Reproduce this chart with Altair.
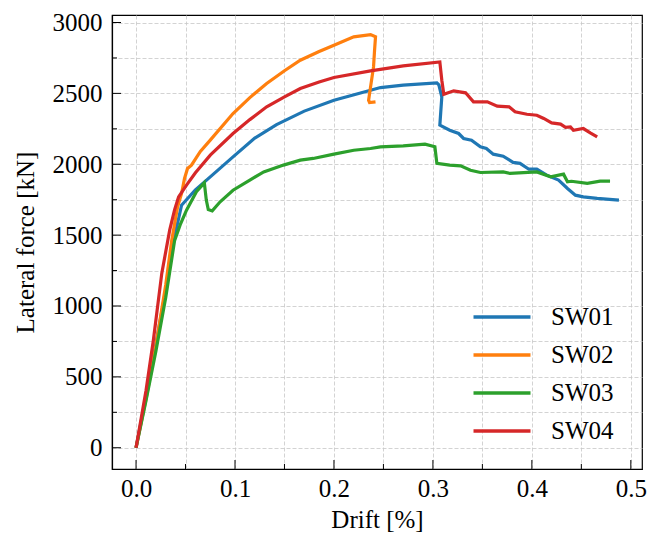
import altair as alt
import pandas as pd

# ---- data ----
sw01_x = [0, 0.01, 0.02, 0.03, 0.038, 0.046, 0.06, 0.075, 0.098, 0.12, 0.142, 0.17, 0.2, 0.237, 0.247, 0.27, 0.304, 0.306, 0.309, 0.307, 0.317, 0.326, 0.331, 0.339, 0.348, 0.354, 0.361, 0.371, 0.381, 0.388, 0.397, 0.405, 0.415, 0.427, 0.436, 0.444, 0.452, 0.466, 0.488]
sw01_y = [0, 360, 730, 1110, 1460, 1711, 1820, 1911, 2052, 2185, 2280, 2375, 2452, 2522, 2541, 2558, 2574, 2560, 2475, 2276, 2240, 2217, 2182, 2170, 2123, 2111, 2071, 2057, 2013, 2006, 1965, 1965, 1923, 1888, 1829, 1782, 1770, 1759, 1747]

sw02_x = [0, 0.01, 0.02, 0.03, 0.036, 0.042, 0.046, 0.049, 0.052, 0.056, 0.065, 0.075, 0.098, 0.115, 0.132, 0.15, 0.166, 0.185, 0.2, 0.22, 0.237, 0.242, 0.241, 0.24, 0.237, 0.235, 0.236, 0.242]
sw02_y = [0, 340, 720, 1150, 1460, 1700, 1794, 1900, 1970, 1994, 2090, 2170, 2358, 2470, 2570, 2660, 2734, 2795, 2840, 2899, 2915, 2899, 2800, 2687, 2546, 2452, 2435, 2440]

sw03_x = [0, 0.01, 0.02, 0.03, 0.039, 0.045, 0.051, 0.061, 0.069, 0.071, 0.073, 0.077, 0.085, 0.098, 0.115, 0.129, 0.149, 0.166, 0.179, 0.2, 0.22, 0.237, 0.247, 0.27, 0.292, 0.302, 0.304, 0.317, 0.328, 0.338, 0.348, 0.371, 0.378, 0.405, 0.419, 0.432, 0.436, 0.44, 0.456, 0.469, 0.479]
sw03_y = [0, 330, 680, 1060, 1463, 1580, 1676, 1806, 1869, 1747, 1681, 1671, 1735, 1817, 1888, 1946, 1994, 2029, 2041, 2071, 2099, 2111, 2123, 2130, 2142, 2123, 2006, 1994, 1989, 1958, 1942, 1946, 1935, 1946, 1911, 1930, 1876, 1880, 1865, 1881, 1881]

sw04_x = [0, 0.01, 0.0175, 0.026, 0.034, 0.039, 0.043, 0.051, 0.06, 0.075, 0.098, 0.115, 0.132, 0.15, 0.166, 0.185, 0.2, 0.237, 0.27, 0.307, 0.309, 0.311, 0.321, 0.333, 0.341, 0.355, 0.365, 0.377, 0.383, 0.395, 0.405, 0.412, 0.42, 0.429, 0.434, 0.439, 0.442, 0.452, 0.459, 0.466]
sw04_y = [0, 400, 758, 1230, 1535, 1680, 1770, 1853, 1940, 2064, 2217, 2315, 2405, 2475, 2534, 2580, 2612, 2659, 2694, 2722, 2593, 2494, 2518, 2504, 2440, 2440, 2410, 2405, 2370, 2353, 2346, 2323, 2292, 2283, 2260, 2264, 2240, 2252, 2221, 2193]

series_names = ["SW01", "SW02", "SW03", "SW04"]
series_colors = ["#1f77b4", "#ff7f0e", "#2ca02c", "#d62728"]

x_major = [0.0, 0.1, 0.2, 0.3, 0.4, 0.5]
x_minor = [0.05, 0.15, 0.25, 0.35, 0.45]
y_major = [0, 500, 1000, 1500, 2000, 2500, 3000]
y_minor = [250, 750, 1250, 1750, 2250, 2750]

rows = []
for name, xs, ys in zip(series_names, [sw01_x, sw02_x, sw03_x, sw04_x], [sw01_y, sw02_y, sw03_y, sw04_y]):
    for i, (a, b) in enumerate(zip(xs, ys)):
        rows.append({"series": name, "drift": a, "force": b, "i": i})
df = pd.DataFrame(rows)

W, H = 530, 454
FONT = "Liberation Serif"
xscale = alt.Scale(domain=[-0.0243, 0.5113], nice=False, zero=False)
yscale = alt.Scale(domain=[-150, 3053], nice=False, zero=False)

x_all = sorted(x_major + x_minor)
y_all = sorted(y_major + y_minor)

x_axis = alt.Axis(values=x_all, grid=True, ticks=False,
                  labelExpr="abs(datum.value*10 - round(datum.value*10)) < 0.001 ? format(datum.value, '.1f') : ''",
                  labelPadding=7, titlePadding=6)
y_axis = alt.Axis(values=y_all, grid=True, ticks=False,
                  labelExpr="datum.value % 500 == 0 ? format(datum.value, 'd') : ''",
                  labelPadding=10, titlePadding=14)

lines = alt.Chart(df).mark_line(strokeWidth=3.2, clip=True).encode(
    x=alt.X("drift:Q", scale=xscale, title="Drift [%]", axis=x_axis),
    y=alt.Y("force:Q", scale=yscale, title="Lateral force [kN]", axis=y_axis),
    color=alt.Color("series:N", scale=alt.Scale(domain=series_names, range=series_colors),
                    legend=alt.Legend(title=None, orient="none", legendX=374, legendY=286,
                                      symbolType="M-2,0L2,0", symbolSize=812, symbolStrokeWidth=3.5,
                                      labelFont=FONT, labelFontSize=25, labelColor="black",
                                      labelOffset=33, rowPadding=9, padding=0)),
    order=alt.Order("i:Q"),
)

def xticks(vals, length):
    return alt.Chart(pd.DataFrame({"drift": vals})).mark_rule(color="black", strokeWidth=1).encode(
        x=alt.X("drift:Q", scale=xscale, title="Drift [%]", axis=x_axis),
        y=alt.value(H), y2=alt.value(H - length))

def yticks(vals, length):
    return alt.Chart(pd.DataFrame({"force": vals})).mark_rule(color="black", strokeWidth=1).encode(
        y=alt.Y("force:Q", scale=yscale, title="Lateral force [kN]", axis=y_axis),
        x=alt.value(0), x2=alt.value(length))

chart = alt.layer(
    lines,
    xticks(x_major, 9), xticks(x_minor, 5),
    yticks(y_major, 9), yticks(y_minor, 5),
).properties(
    width=W, height=H,
    background="white",
    autosize=alt.AutoSizeParams(type="none"),
    padding={"left": 112, "top": 15, "right": 5, "bottom": 66},
).configure_view(
    stroke="black", strokeWidth=1.2
).configure_axis(
    labelFont=FONT, titleFont=FONT, labelFontSize=25, titleFontSize=25,
    labelColor="black", titleColor="black", titleFontWeight="normal",
    domainColor="black", domainWidth=1.2,
    gridColor="#c8c8c8", gridDash=[4, 2], gridWidth=0.8,
)

chart.save("out.html", embed_options={"renderer": "svg", "actions": False})
